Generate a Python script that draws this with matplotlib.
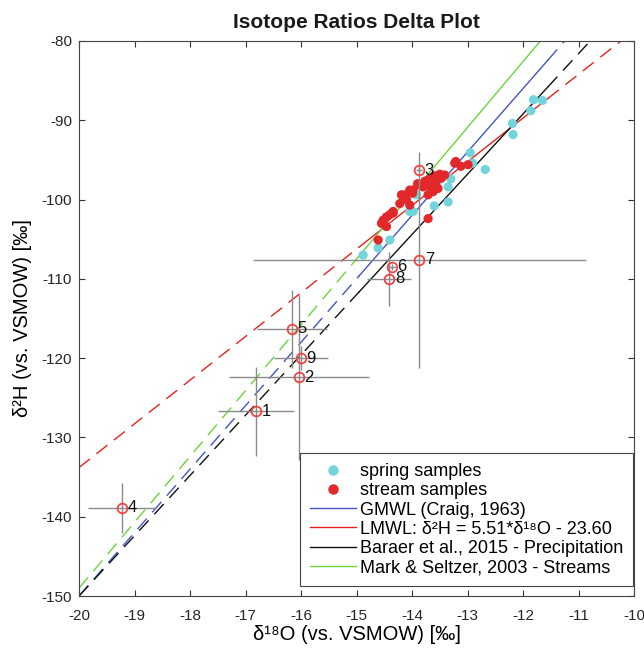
import numpy as np
import matplotlib
matplotlib.use('Agg')
import matplotlib.pyplot as plt
from matplotlib import font_manager
from matplotlib.lines import Line2D

# --- sample data (per mil vs. VSMOW)
spring_d18o = [-11.81, -11.65, -11.86, -12.19, -12.18, -12.95, -12.91, -12.68,
               -13.35, -13.35, -13.60, -13.98, -13.92, -13.56, -13.53, -14.40,
               -14.61, -14.88, -14.04, -13.45, -13.30]
spring_d2h  = [-87.4, -87.5, -88.8, -90.4, -91.8, -94.1, -95.4, -96.2,
               -98.4, -100.3, -100.8, -101.5, -99.4, -97.1, -97.6, -105.1,
               -106.1, -107.0, -101.5, -97.0, -97.4]

stream_d18o = [-14.61, -14.52, -14.46, -14.40, -14.34, -14.22, -14.19, -14.10,
               -14.04, -13.99, -13.80, -13.77, -13.68, -13.71, -13.62, -13.53,
               -13.65, -13.47, -13.41, -13.23, -13.21, -13.12, -12.99, -13.71,
               -13.68, -13.58, -13.98, -14.13, -14.04, -14.34, -14.46, -14.55,
               -13.71, -13.85, -13.60, -13.50, -13.90]
stream_d2h  = [-105.1, -102.6, -103.4, -101.9, -101.7, -100.5, -99.4, -100.0,
               -98.8, -99.2, -98.4, -97.7, -97.9, -99.4, -99.0, -98.6,
               -97.3, -97.3, -96.9, -95.4, -95.2, -95.8, -95.6, -97.5,
               -98.4, -98.0, -98.8, -99.4, -100.7, -101.5, -102.2, -103.0,
               -102.4, -98.2, -97.0, -96.8, -98.0]

# numbered sites with uncertainties
site_ids      = ['1', '2', '3', '4', '5', '6', '7', '8', '9']
site_d18o     = [-16.81, -16.04, -13.87, -19.23, -16.16, -14.36, -13.87, -14.41, -16.00]
site_d2h      = [-126.7, -122.4, -96.3, -138.9, -116.3, -108.5, -107.6, -110.0, -120.0]
site_d18o_err = [0.68, 1.26, 0.05, 0.61, 0.63, 0.08, 3.0, 0.40, 0.49]
site_d2h_err  = [5.6, 10.4, 0.4, 3.2, 4.9, 0.4, 13.6, 3.4, 1.5]

# meteoric water lines: slope, intercept
line_names      = ['GMWL (Craig, 1963)',
                   'LMWL: \u03b4\u00b2H = 5.51*\u03b4\u00b9\u2078O - 23.60',
                   'Baraer et al., 2015 - Precipitation',
                   'Mark & Seltzer, 2003 - Streams']
line_slopes     = [8.0, 5.51, 7.6, 8.3]
line_intercepts = [10.0, -23.60, 2.0, 17.0]
line_colors     = ['#4356c4', '#e8211f', '#111111', '#6cd43c']

fonts = {f.name for f in font_manager.fontManager.ttflist}
base = 'Liberation Sans' if 'Liberation Sans' in fonts else 'DejaVu Sans'
plt.rcParams['font.family'] = [base, 'DejaVu Sans']
plt.rcParams['axes.unicode_minus'] = False

fig = plt.figure(figsize=(6.44, 6.5), dpi=100)
ax = fig.add_axes([79/644, 1 - 596/650, 555/644, 555/650])

# dashed over the full axis, solid over the sampled range
x_lo, x_hi = -14.95, -11.55
for m, b, c in zip(line_slopes, line_intercepts, line_colors):
    for seg in ([-20.0, x_lo], [x_hi, -10.0]):
        xs = np.array(seg)
        ax.plot(xs, m*xs + b, color=c, lw=1.0, ls=(0, (10, 6)), zorder=2)
    xs = np.array([x_lo, x_hi])
    ax.plot(xs, m*xs + b, color=c, lw=1.0, zorder=2)

ax.scatter(spring_d18o, spring_d2h, s=44, color='#74d4dc', edgecolors='none', zorder=3)
ax.scatter(stream_d18o, stream_d2h, s=44, color='#e2282a', edgecolors='none', zorder=3.2)

ax.errorbar(site_d18o, site_d2h, xerr=site_d18o_err, yerr=site_d2h_err,
            fmt='none', ecolor='#8a8a8a', elinewidth=1.0, capsize=0, zorder=3.5)
ax.plot(site_d18o, site_d2h, 'o', ms=7, mfc='none', mec='#f04545', mew=1.3, zorder=4)
for sid, sx, sy in zip(site_ids, site_d18o, site_d2h):
    ax.annotate(sid, (sx, sy), xytext=(4, 0), textcoords='offset points',
                va='center', ha='left', fontsize=12, color='#111111', zorder=5)

ax.set_xlim(-20, -10)
ax.set_ylim(-150, -80)
ax.set_xticks(np.arange(-20, -9, 1))
ax.set_yticks(np.arange(-150, -79, 10))
ax.tick_params(direction='in', length=4, width=0.8, top=True, right=True,
               labelsize=11, colors='#333333', labelcolor='#262626')
ax.tick_params(axis='x', pad=9)
ax.tick_params(axis='y', pad=5)
for sp in ax.spines.values():
    sp.set_color('#444444')
    sp.set_linewidth(0.8)

ax.set_title('Isotope Ratios Delta Plot', fontsize=15, fontweight='bold',
             color='#1a1a1a', pad=9)
ax.set_xlabel('\u03b4\u00b9\u2078O (vs. VSMOW) [\u2030]', fontsize=14.5, labelpad=2)
ax.set_ylabel('\u03b4\u00b2H (vs. VSMOW) [\u2030]', fontsize=14.5, labelpad=7)

handles = [Line2D([], [], ls='none', marker='o', ms=6.5, color='#74d4dc'),
           Line2D([], [], ls='none', marker='o', ms=6.5, color='#e2282a')]
handles += [Line2D([], [], color=c, lw=1.0) for c in line_colors]
labels = ['spring samples', 'stream samples'] + line_names
leg = ax.legend(handles, labels, loc='lower right', bbox_to_anchor=(0.998, 0.018),
                borderaxespad=0, fontsize=13, handlelength=2.55, handletextpad=0.22,
                labelspacing=0.12, borderpad=0.55, fancybox=False, framealpha=1,
                edgecolor='#444444')
leg.get_frame().set_linewidth(0.8)

fig.savefig('out.png', dpi=100)
